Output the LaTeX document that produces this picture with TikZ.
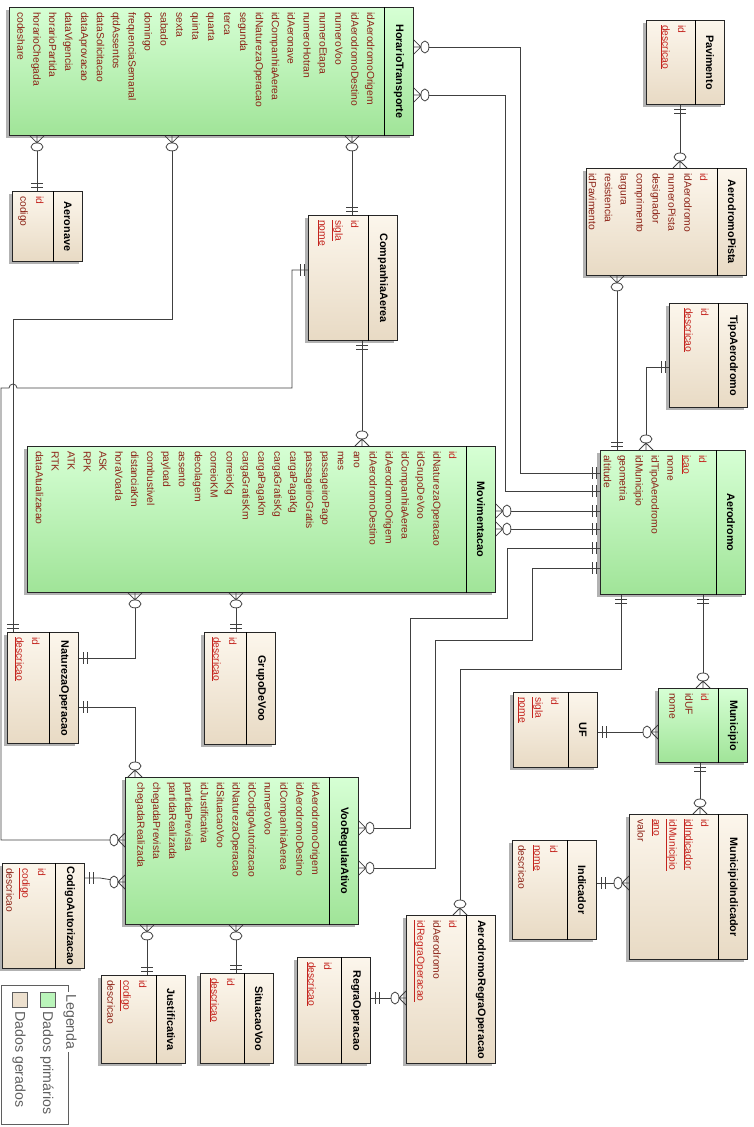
\documentclass[tikz,border=0pt]{standalone}
\usepackage{fontspec}
\setmainfont{Liberation Sans}
\usetikzlibrary{shadows}

\definecolor{primtopo}{RGB}{214,255,212}
\definecolor{primbase}{RGB}{160,228,152}
\definecolor{gertopo}{RGB}{252,246,236}
\definecolor{gerbase}{RGB}{232,218,196}
\definecolor{chavecor}{RGB}{196,36,30}
\definecolor{campocor}{RGB}{140,34,22}
\definecolor{legcor}{RGB}{95,95,95}

\newcommand\chave[1]{\textcolor{chavecor}{#1}}
\newcommand\unica[1]{\textcolor{chavecor}{\underline{#1}}}

\tikzset{
  entidade/.style={draw=black!85, line width=0.9pt, inner sep=0, anchor=north west,
    drop shadow={shadow xshift=-3pt, shadow yshift=-3pt, fill=black!30, opacity=1}},
  prim/.style={entidade, top color=primtopo, bottom color=primbase},
  ger/.style={entidade, top color=gertopo, bottom color=gerbase},
  titulo/.style={rotate=-90, inner sep=0, font=\fontsize{10.8}{13}\selectfont\bfseries},
  campos/.style={rotate=-90, anchor=north west, align=left, inner sep=0, text=campocor,
    font=\fontsize{10.3}{15.9}\selectfont},
  elo/.style={draw=black!75, line width=0.8pt, shorten <=15pt},
  muitos/.pic={
    \draw[shorten <=0pt, shorten >=0pt] (0,-7) -- (7,0) -- (0,7) (0,0) -- (7,0);
    \draw[shorten <=0pt, shorten >=0pt] (11,0) ellipse [x radius=4, y radius=6];
  },
  um/.pic={
    \draw[shorten <=0pt, shorten >=0pt] (4,-6) -- (4,6) (8,-6) -- (8,6);
  },
  legenda/.style={draw=legcor, line width=0.8pt},
  amostra/.style={draw=legcor, line width=0.6pt, minimum size=15, inner sep=0},
  legtexto/.style={rotate=-90, anchor=west, inner sep=0, text=legcor,
    font=\fontsize{14.2}{16}\selectfont},
}

\begin{document}
\begin{tikzpicture}[x=1pt, y=-1pt]
\useasboundingbox (0,0) rectangle (754,1127);

% dados primarios
\node[prim, minimum width=404, minimum height=128] (ht) at (9,7) {};
\draw ([xshift=-30pt]ht.north east) -- ([xshift=-30pt]ht.south east);
\node[titulo] at ([xshift=-15pt]ht.east) {HorarioTransporte};
\node[campos] at ([xshift=-39pt,yshift=-5pt]ht.north east) {idAerodromoOrigem\\idAerodromoDestino\\numeroVoo\\numeroEtapa\\numeroHotran\\idAeronave\\idCompanhiaAerea\\idNaturezaOperacao\\segunda\\terca\\quarta\\quinta\\sexta\\sabado\\domingo\\frequenciaSemanal\\qtdAssentos\\dataSolicitacao\\dataAprovacao\\dataVigencia\\horarioPartida\\horarioChegada\\codeshare};

\node[prim, minimum width=468, minimum height=146] (mov) at (27,446) {};
\draw ([xshift=-30pt]mov.north east) -- ([xshift=-30pt]mov.south east);
\node[titulo] at ([xshift=-15pt]mov.east) {Movimentacao};
\node[campos] at ([xshift=-39pt,yshift=-5pt]mov.north east) {\chave{id}\\idNaturezaOperacao\\idGrupoDeVoo\\idCompanhiaAerea\\idAerodromoOrigem\\idAerodromoDestino\\ano\\mes\\passageiroPago\\passageiroGratis\\cargaPagaKg\\cargaGratisKg\\cargaPagaKm\\cargaGratisKm\\correioKg\\correioKM\\decolagem\\assento\\payload\\combustivel\\distanciaKm\\horaVoada\\ASK\\RPK\\ATK\\RTK\\dataAtualizacao};

\node[prim, minimum width=145, minimum height=144] (aerodromo) at (600,450) {};
\draw ([xshift=-30pt]aerodromo.north east) -- ([xshift=-30pt]aerodromo.south east);
\node[titulo] at ([xshift=-15pt]aerodromo.east) {Aerodromo};
\node[campos] at ([xshift=-39pt,yshift=-5pt]aerodromo.north east) {\chave{id}\\\unica{icao}\\nome\\idTipoAerodromo\\idMunicipio\\geometria\\altitude};

\node[prim, minimum width=89, minimum height=74] (municipio) at (658,688) {};
\draw ([xshift=-30pt]municipio.north east) -- ([xshift=-30pt]municipio.south east);
\node[titulo] at ([xshift=-15pt]municipio.east) {Municipio};
\node[campos] at ([xshift=-39pt,yshift=-5pt]municipio.north east) {\chave{id}\\idUF\\nome};

\node[prim, minimum width=233, minimum height=147] (vra) at (125,777) {};
\draw ([xshift=-30pt]vra.north east) -- ([xshift=-30pt]vra.south east);
\node[titulo] at ([xshift=-15pt]vra.east) {VooRegularAtivo};
\node[campos] at ([xshift=-39pt,yshift=-5pt]vra.north east) {idAerodromoOrigem\\idAerodromoDestino\\idCompanhiaAerea\\numeroVoo\\idCodigoAutorizacao\\idNaturezaOperacao\\idSituacaoVoo\\idJustificativa\\partidaPrevista\\partidaRealizada\\chegadaPrevista\\chegadaRealizada};

% dados gerados
\node[ger, minimum width=70, minimum height=70] (aeronave) at (12,191) {};
\draw ([xshift=-30pt]aeronave.north east) -- ([xshift=-30pt]aeronave.south east);
\node[titulo] at ([xshift=-15pt]aeronave.east) {Aeronave};
\node[campos] at ([xshift=-39pt,yshift=-5pt]aeronave.north east) {\chave{id}\\codigo};

\node[ger, minimum width=89, minimum height=125] (companhia) at (308,215) {};
\draw ([xshift=-30pt]companhia.north east) -- ([xshift=-30pt]companhia.south east);
\node[titulo] at ([xshift=-15pt]companhia.east) {CompanhiaAerea};
\node[campos] at ([xshift=-39pt,yshift=-5pt]companhia.north east) {\chave{id}\\\unica{sigla}\\\unica{nome}};

\node[ger, minimum width=78, minimum height=84] (pavimento) at (646,20) {};
\draw ([xshift=-30pt]pavimento.north east) -- ([xshift=-30pt]pavimento.south east);
\node[titulo] at ([xshift=-15pt]pavimento.east) {Pavimento};
\node[campos] at ([xshift=-39pt,yshift=-5pt]pavimento.north east) {\chave{id}\\\unica{descricao}};

\node[ger, minimum width=160, minimum height=107] (pista) at (586,168) {};
\draw ([xshift=-30pt]pista.north east) -- ([xshift=-30pt]pista.south east);
\node[titulo] at ([xshift=-15pt]pista.east) {AerodromoPista};
\node[campos] at ([xshift=-39pt,yshift=-5pt]pista.north east) {\chave{id}\\idAerodromo\\numeroPista\\designador\\comprimento\\largura\\resistencia\\idPavimento};

\node[ger, minimum width=78, minimum height=104] (tipo) at (669,303) {};
\draw ([xshift=-30pt]tipo.north east) -- ([xshift=-30pt]tipo.south east);
\node[titulo] at ([xshift=-15pt]tipo.east) {TipoAerodromo};
\node[campos] at ([xshift=-39pt,yshift=-5pt]tipo.north east) {\chave{id}\\\unica{descricao}};

\node[ger, minimum width=71, minimum height=111] (natureza) at (7,632) {};
\draw ([xshift=-30pt]natureza.north east) -- ([xshift=-30pt]natureza.south east);
\node[titulo] at ([xshift=-15pt]natureza.east) {NaturezaOperacao};
\node[campos] at ([xshift=-39pt,yshift=-5pt]natureza.north east) {\chave{id}\\\unica{descricao}};

\node[ger, minimum width=71, minimum height=112] (grupo) at (204,632) {};
\draw ([xshift=-30pt]grupo.north east) -- ([xshift=-30pt]grupo.south east);
\node[titulo] at ([xshift=-15pt]grupo.east) {GrupoDeVoo};
\node[campos] at ([xshift=-39pt,yshift=-5pt]grupo.north east) {\chave{id}\\\unica{descricao}};

\node[ger, minimum width=84, minimum height=75] (uf) at (513,692) {};
\draw ([xshift=-30pt]uf.north east) -- ([xshift=-30pt]uf.south east);
\node[titulo] at ([xshift=-15pt]uf.east) {UF};
\node[campos] at ([xshift=-39pt,yshift=-5pt]uf.north east) {\chave{id}\\\unica{sigla}\\\unica{nome}};

\node[ger, minimum width=118, minimum height=145] (munind) at (629,814) {};
\draw ([xshift=-30pt]munind.north east) -- ([xshift=-30pt]munind.south east);
\node[titulo] at ([xshift=-15pt]munind.east) {MunicipioIndicador};
\node[campos] at ([xshift=-39pt,yshift=-5pt]munind.north east) {\chave{id}\\\unica{idIndicador}\\\unica{idMunicipio}\\\unica{ano}\\valor};

\node[ger, minimum width=84, minimum height=99] (indicador) at (512,840) {};
\draw ([xshift=-30pt]indicador.north east) -- ([xshift=-30pt]indicador.south east);
\node[titulo] at ([xshift=-15pt]indicador.east) {Indicador};
\node[campos] at ([xshift=-39pt,yshift=-5pt]indicador.north east) {\chave{id}\\\unica{nome}\\descricao};

\node[ger, minimum width=89, minimum height=148] (aro) at (406,915) {};
\draw ([xshift=-30pt]aro.north east) -- ([xshift=-30pt]aro.south east);
\node[titulo] at ([xshift=-15pt]aro.east) {AerodromoRegraOperacao};
\node[campos] at ([xshift=-39pt,yshift=-5pt]aro.north east) {\chave{id}\\idAerodromo\\\unica{idRegraOperacao}};

\node[ger, minimum width=73, minimum height=106] (regra) at (297,957) {};
\draw ([xshift=-30pt]regra.north east) -- ([xshift=-30pt]regra.south east);
\node[titulo] at ([xshift=-15pt]regra.east) {RegraOperacao};
\node[campos] at ([xshift=-39pt,yshift=-5pt]regra.north east) {\chave{id}\\\unica{descricao}};

\node[ger, minimum width=73, minimum height=90] (situacao) at (200,973) {};
\draw ([xshift=-30pt]situacao.north east) -- ([xshift=-30pt]situacao.south east);
\node[titulo] at ([xshift=-15pt]situacao.east) {SituacaoVoo};
\node[campos] at ([xshift=-39pt,yshift=-5pt]situacao.north east) {\chave{id}\\\unica{descricao}};

\node[ger, minimum width=84, minimum height=88] (justificativa) at (101,975) {};
\draw ([xshift=-30pt]justificativa.north east) -- ([xshift=-30pt]justificativa.south east);
\node[titulo] at ([xshift=-15pt]justificativa.east) {Justificativa};
\node[campos] at ([xshift=-39pt,yshift=-5pt]justificativa.north east) {\chave{id}\\\unica{codigo}\\descricao};

\node[ger, minimum width=82, minimum height=105] (codigo) at (2,863) {};
\draw ([xshift=-30pt]codigo.north east) -- ([xshift=-30pt]codigo.south east);
\node[titulo] at ([xshift=-15pt]codigo.east) {CodigoAutorizacao};
\node[campos] at ([xshift=-39pt,yshift=-5pt]codigo.north east) {\chave{id}\\\unica{codigo}\\descricao};

% relacionamentos
\draw[elo] (ht.east |- 0,47) pic{muitos} -| (520,473) -- (aerodromo.west |- 0,473) pic[rotate=180]{um};
\draw[elo] (ht.east |- 0,95) pic{muitos} -| (505,491) -- (aerodromo.west |- 0,491) pic[rotate=180]{um};
\draw[elo] (ht.south -| 37,0) pic[rotate=-90]{muitos} -- (aeronave.north -| 37,0) pic[rotate=90]{um};
\draw[elo] (ht.south -| 172,0) pic[rotate=-90]{muitos} -- (172,319) -- (13,319) -- (natureza.north -| 13,0) pic[rotate=90]{um};
\draw[elo] (ht.south -| 352,0) pic[rotate=-90]{muitos} -- (companhia.north -| 352,0) pic[rotate=90]{um};
\draw[elo] (vra.west |- 0,840) pic[rotate=180]{muitos} -- (1,840) -- (1,388) -- (9,388) arc[start angle=180, end angle=360, radius=4] -- (292,388) |- (companhia.west |- 0,270) pic[rotate=180]{um};
\draw[elo] (mov.north -| 362,0) pic[rotate=90]{muitos} -- (companhia.south -| 362,0) pic[rotate=-90]{um};
\draw[elo] (mov.east |- 0,511) pic{muitos} -- (aerodromo.west |- 0,511) pic[rotate=180]{um};
\draw[elo] (mov.east |- 0,529) pic{muitos} -- (aerodromo.west |- 0,529) pic[rotate=180]{um};
\draw[elo] (vra.east |- 0,828) pic{muitos} -| (410,618) -| (507,548) -- (aerodromo.west |- 0,548) pic[rotate=180]{um};
\draw[elo] (vra.east |- 0,868) pic{muitos} -| (435,640) -| (532,568) -- (aerodromo.west |- 0,568) pic[rotate=180]{um};
\draw[elo] (aro.north -| 460,0) pic[rotate=90]{muitos} |- (621,669) -- (aerodromo.south -| 621,0) pic[rotate=-90]{um};
\draw[elo] (municipio.north -| 703,0) pic[rotate=90]{muitos} -- (aerodromo.south -| 703,0) pic[rotate=-90]{um};
\draw[elo] (pista.south -| 617,0) pic[rotate=-90]{muitos} -- (aerodromo.north -| 617,0) pic[rotate=90]{um};
\draw[elo] (aerodromo.north -| 646,0) pic[rotate=90]{muitos} |- (tipo.west |- 0,367) pic[rotate=180]{um};
\draw[elo] (pista.north -| 680,0) pic[rotate=90]{muitos} -- (pavimento.south -| 680,0) pic[rotate=-90]{um};
\draw[elo] (mov.south -| 135,0) pic[rotate=-90]{muitos} |- (natureza.east |- 0,658) pic{um};
\draw[elo] (mov.south -| 236,0) pic[rotate=-90]{muitos} -- (grupo.north -| 236,0) pic[rotate=90]{um};
\draw[elo] (vra.north -| 135,0) pic[rotate=90]{muitos} |- (natureza.east |- 0,707) pic{um};
\draw[elo] (municipio.west |- 0,732) pic[rotate=180]{muitos} -- (uf.east |- 0,732) pic{um};
\draw[elo] (munind.north -| 700,0) pic[rotate=90]{muitos} -- (municipio.south -| 700,0) pic[rotate=-90]{um};
\draw[elo] (munind.west |- 0,883) pic[rotate=180]{muitos} -- (indicador.east |- 0,883) pic{um};
\draw[elo] (aro.west |- 0,998) pic[rotate=180]{muitos} -- (regra.east |- 0,998) pic{um};
\draw[elo] (vra.south -| 147,0) pic[rotate=-90]{muitos} -- (justificativa.north -| 147,0) pic[rotate=90]{um};
\draw[elo] (vra.south -| 236,0) pic[rotate=-90]{muitos} -- (situacao.north -| 236,0) pic[rotate=90]{um};
\draw[elo] (vra.west |- 0,882) pic[rotate=180]{muitos} -- (100,878) -- (codigo.east |- 0,878) pic{um};

% legenda
\draw[legenda] (1,985) rectangle (68,1124);
\node[rotate=-90, fill=white, inner sep=2pt, text=legcor, font=\fontsize{14.2}{16}\selectfont] (legtitulo) at (70,1022) {Legenda};
\node[amostra, fill={rgb,255:red,186;green,245;blue,186}] (amostra1) at (47.5,1000) {};
\node[legtexto] (texto1) at (47,1011) {Dados primários};
\node[amostra, fill={rgb,255:red,237;green,224;blue,206}] (amostra2) at (19.5,1000) {};
\node[legtexto] (texto2) at (19,1011) {Dados gerados};
\end{tikzpicture}
\end{document}
